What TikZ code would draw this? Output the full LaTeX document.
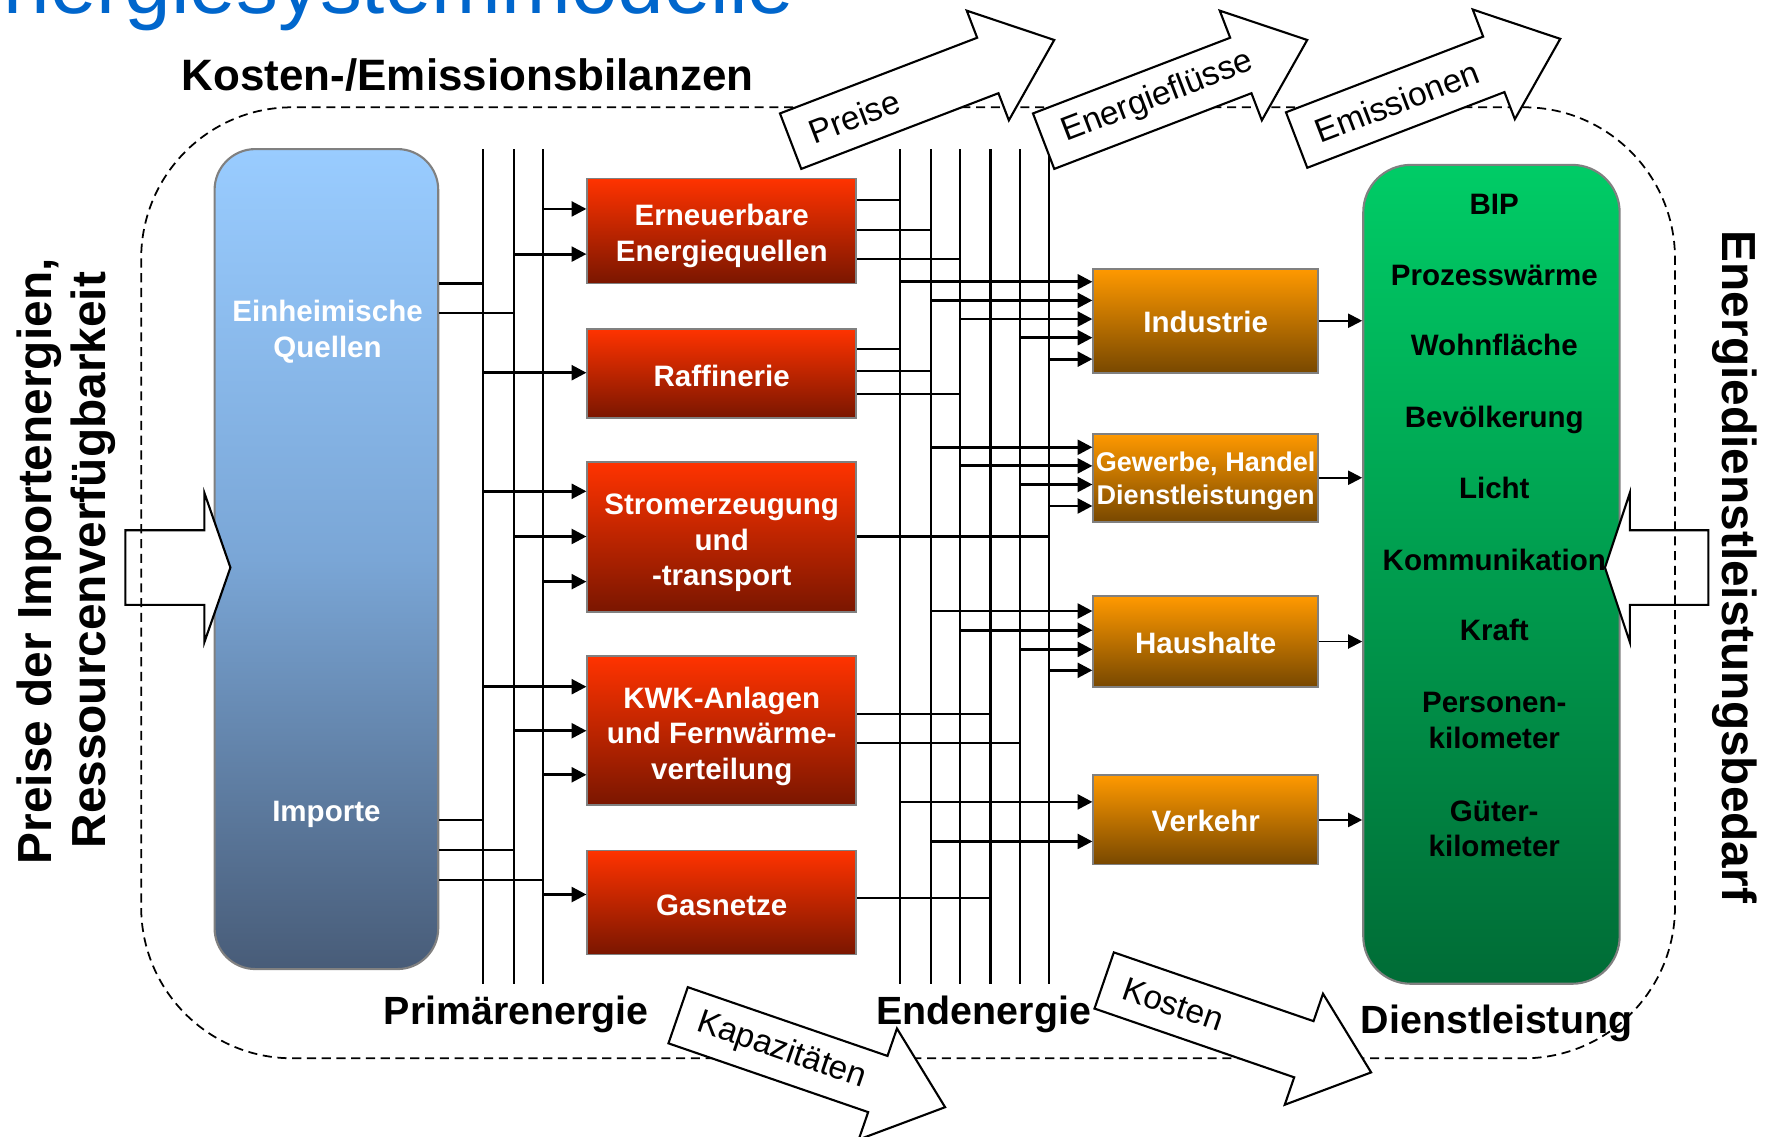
\documentclass[tikz,border=0pt]{standalone}
\usepackage{fontspec}
\setmainfont{Liberation Sans}
\usetikzlibrary{arrows.meta}

\newlength{\pxu}
\setlength{\pxu}{0.011295cm}

\definecolor{titleblue}{RGB}{0,102,204}
\definecolor{srctop}{RGB}{153,204,255}
\definecolor{srcmid}{RGB}{122,166,214}
\definecolor{srcbot}{RGB}{72,92,120}
\definecolor{redtop}{RGB}{255,51,0}
\definecolor{redbot}{RGB}{122,22,0}
\definecolor{orgtop}{RGB}{255,153,0}
\definecolor{orgbot}{RGB}{120,72,0}
\definecolor{grntop}{RGB}{0,204,102}
\definecolor{grnbot}{RGB}{0,108,54}
\definecolor{frame}{RGB}{128,128,128}

% white block arrow with a label: name, tail point, angle, text
\newcommand{\flowarrow}[4]{%
  \begin{scope}[shift={#2}, rotate=#3]
    \draw[line width=0.6pt, fill=white]
      (0,-26.3) -- (187,-26.3) -- (187,-52) -- (250,0) -- (187,52)
      -- (187,26.3) -- (0,26.3) -- cycle;
    \node[anchor=west, rotate=#3, inner sep=0pt, font=\fontsize{9.5}{11}\selectfont]
      (#1) at (18,0) {#4};
  \end{scope}}

% strut that lowers a box caption a little
\newcommand{\capstrut}[1]{\rule{0pt}{#1}}

\begin{document}
\begin{tikzpicture}[x=0.011295cm, y=-0.011295cm,
  bus/.style={line width=0.6pt},
  feed/.style={line width=0.8pt, -{Triangle[length=4.2pt,width=4.2pt]}},
  servarrow/.style={line width=0.55pt, -{Triangle[length=4pt,width=4pt]}},
  boxfont/.style={font=\bfseries\fontsize{8.4}{10.1}\selectfont},
  procnode/.style={draw=frame, line width=0.5pt, inner sep=0pt, align=center,
    text=white, boxfont, minimum width=238*\pxu, top color=redtop, bottom color=redbot},
  sectornode/.style={draw=frame, line width=0.5pt, inner sep=0pt, align=center,
    text=white, boxfont, minimum width=199*\pxu, top color=orgtop, bottom color=orgbot},
  servtext/.style={anchor=base, boxfont, text=black, inner sep=0pt},
  srctext/.style={anchor=base, boxfont, text=white, inner sep=0pt},
  biglabel/.style={font=\bfseries\fontsize{11.2}{13}\selectfont, inner sep=0pt},
  sidelabel/.style={font=\bfseries\fontsize{13.6}{16}\selectfont, inner sep=0pt},
  boundary/.style={line width=0.5pt, dash pattern=on 2.6pt off 1.6pt}
]
\path[use as bounding box] (0,0) rectangle (1568,1006);
\fill[white] (0,0) rectangle (1568,1006);
\clip (0,0) rectangle (1568,1006);

% heading
\node[anchor=base east, text=titleblue, inner sep=0pt,
  font=\fontsize{23.8}{28}\selectfont] (title) at (704,12) {nergiesystemmodelle};

% energy sources
\node[draw=frame, line width=0.6pt, rounded corners=11.6pt,
  minimum width=198*\pxu, minimum height=726*\pxu,
  top color=srctop, bottom color=srcbot, middle color=srcmid] (src) at (289,495) {};
\node[srctext] (einh) at (290,284.5) {Einheimische};
\node[srctext] (quel) at (290,316.5) {Quellen};
\node[srctext] (imp) at (289,727) {Importe};

% conversion sector
\node[procnode, minimum height=93*\pxu] (ren) at (639,204.5)
  {\capstrut{9pt}Erneuerbare\\Energiequellen};
\node[procnode, minimum height=79*\pxu] (raf) at (639,330.5)
  {\capstrut{7.4pt}Raffinerie};
\node[procnode, minimum height=133*\pxu] (strom) at (639,475.5)
  {\capstrut{9.2pt}Stromerzeugung\\und\\-transport};
\node[procnode, minimum height=132*\pxu] (kwk) at (639,647)
  {\capstrut{9.2pt}KWK-Anlagen\\und Fernwärme-\\verteilung};
\node[procnode, minimum height=92*\pxu] (gas) at (639,799)
  {\capstrut{7.4pt}Gasnetze};

% demand sectors
\node[sectornode, minimum height=92*\pxu] (ind) at (1067.5,284)
  {\capstrut{6.9pt}Industrie};
\node[sectornode, minimum height=78*\pxu, font=\bfseries\fontsize{7.7}{9.3}\selectfont]
  (gew) at (1067.5,423) {\capstrut{7.6pt}Gewerbe, Handel\\Dienstleistungen};
\node[sectornode, minimum height=80*\pxu] (hh) at (1067.5,568)
  {\capstrut{6.9pt}Haushalte};
\node[sectornode, minimum height=79*\pxu] (ver) at (1067.5,726)
  {\capstrut{6.9pt}Verkehr};

% energy services
\node[draw=frame, line width=0.6pt, rounded corners=13.5pt,
  minimum width=227*\pxu, minimum height=725*\pxu,
  top color=grntop, bottom color=grnbot] (dl) at (1320.5,508.5) {};
\node[servtext] (s1) at (1323,189.6) {BIP};
\node[servtext] (s2) at (1323,252.5) {Prozesswärme};
\node[servtext] (s3) at (1323,314.5) {Wohnfläche};
\node[servtext] (s4) at (1323,378.5) {Bevölkerung};
\node[servtext] (s5) at (1323,441.5) {Licht};
\node[servtext] (s6) at (1323,505) {Kommunikation};
\node[servtext] (s7) at (1323,567.5) {Kraft};
\node[servtext] (s8a) at (1323,630.5) {Personen-};
\node[servtext] (s8b) at (1323,662.5) {kilometer};
\node[servtext] (s9a) at (1323,727) {Güter-};
\node[servtext] (s9b) at (1323,758.5) {kilometer};

% primary energy bus
\coordinate (p1t) at (428,132); \coordinate (p1b) at (428,871);
\coordinate (p2t) at (455,132); \coordinate (p2b) at (455,871);
\coordinate (p3t) at (481,132); \coordinate (p3b) at (481,871);
\foreach \i in {1,2,3} \draw[bus] (p\i t) -- (p\i b);

% final energy bus
\coordinate (e1t) at (797,132); \coordinate (e1b) at (797,871);
\coordinate (e2t) at (824,132); \coordinate (e2b) at (824,871);
\coordinate (e3t) at (850,132); \coordinate (e3b) at (850,871);
\coordinate (e4t) at (877,132); \coordinate (e4b) at (877,871);
\coordinate (e5t) at (903,132); \coordinate (e5b) at (903,871);
\coordinate (e6t) at (929,132); \coordinate (e6b) at (929,871);
\foreach \i in {1,...,6} \draw[bus] (e\i t) -- (e\i b);

% sources onto the primary bus
\foreach \y/\b in {251/p1t, 277/p2t, 726/p1t, 752.5/p2t, 779/p3t}
  \draw[bus] (src.east |- 0,\y) -- (\b |- 0,\y);

% primary bus into conversion
\foreach \b/\y/\n in {p3t/185/ren, p2t/225/ren, p1t/330/raf,
    p1t/435/strom, p2t/475/strom, p3t/515/strom,
    p1t/608/kwk, p2t/647/kwk, p3t/686/kwk, p3t/792/gas}
  \draw[feed] (\b |- 0,\y) -- (\n.west |- 0,\y);

% conversion onto the final energy bus
\foreach \n/\y/\b in {ren/177/e1t, ren/204/e2t, ren/229/e3t,
    raf/309/e1t, raf/328.5/e2t, raf/349/e3t, strom/475/e6t,
    kwk/632/e4t, kwk/658/e5t, gas/795/e4t}
  \draw[bus] (\n.east |- 0,\y) -- (\b |- 0,\y);

% final energy bus into the demand sectors
\foreach \b/\y/\n in {e1t/249.5/ind, e2t/266/ind, e3t/282.5/ind, e5t/299/ind, e6t/318/ind,
    e2t/396/gew, e3t/412.5/gew, e5t/429/gew, e6t/448/gew,
    e2t/541/hh, e3t/558/hh, e5t/575/hh, e6t/593.5/hh,
    e1t/710/ver, e2t/745/ver}
  \draw[feed] (\b |- 0,\y) -- (\n.west |- 0,\y);

% demand sectors into services
\foreach \n in {ind, gew, hh, ver}
  \draw[servarrow] (\n.east) -- (\n.east -| dl.west);

% external drivers
\draw[line width=0.6pt, fill=white] (111,469.5) -- (181,469.5) -- (181,436.5)
  -- (204,502.5) -- (181,568.5) -- (181,535.5) -- (111,535.5) -- cycle;
\draw[line width=0.6pt, fill=white] (1512.5,469.5) -- (1443,469.5) -- (1443,436.5)
  -- (1421,502.5) -- (1443,568.5) -- (1443,535.5) -- (1512.5,535.5) -- cycle;

% system boundary
\draw[boundary, rounded corners=43pt] (125,95) rectangle (1483,937);

% model outputs
\flowarrow{preise}{(700,125)}{21}{Preise}
\flowarrow{fluss}{(924,125)}{21}{Energieflüsse}
\flowarrow{emis}{(1148,124)}{21}{Emissionen}
\flowarrow{kap}{(600.4,898.9)}{-19}{Kapazitäten}
\flowarrow{kost}{(977.6,868.1)}{-19}{Kosten}

% labels
\node[anchor=base, font=\bfseries\fontsize{12.5}{15}\selectfont, inner sep=0pt]
  (bil) at (414,80) {Kosten-/Emissionsbilanzen};
\node[biglabel, anchor=base] (prim) at (457,907.5) {Primärenergie};
\node[biglabel, anchor=base] (end) at (871,907.5) {Endenergie};
\node[biglabel, anchor=base] (dienst) at (1325,915) {Dienstleistung};
\node[sidelabel, rotate=90] (preisimp) at (35,497) {Preise der Importenergien,};
\node[sidelabel, rotate=90] (ressourc) at (82.5,496) {Ressourcenverfügbarkeit};
\node[sidelabel, rotate=-90] (bedarf) at (1536,502) {Energiedienstleistungsbedarf};
\end{tikzpicture}
\end{document}
